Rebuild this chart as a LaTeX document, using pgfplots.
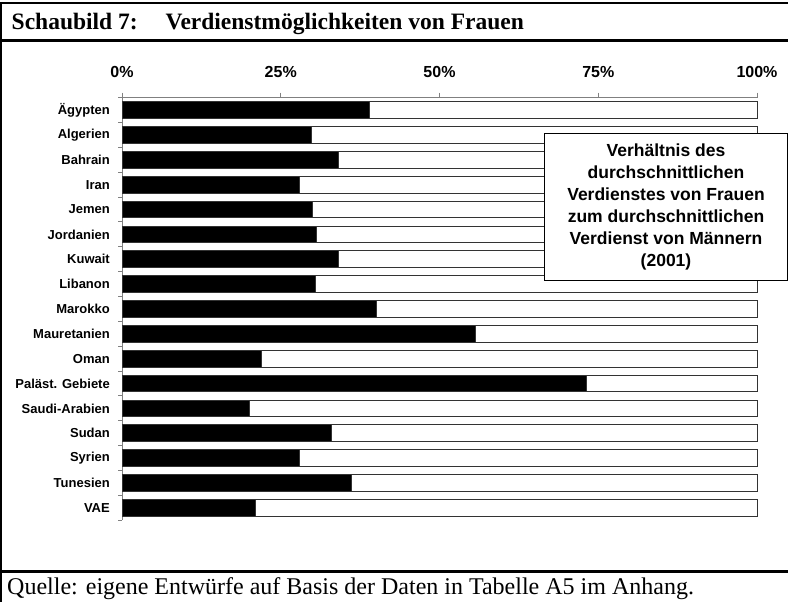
\documentclass[border=0pt]{standalone}
\usepackage{fontspec}
\setmainfont{Liberation Serif}
\newfontfamily\sansf{Liberation Sans}
\usepackage{pgfplots}
\pgfplotsset{compat=1.18}
\begin{document}
\begin{tikzpicture}[x=1bp,y=1bp]
\path[use as bounding box] (0,0) rectangle (788,602);
\begin{axis}[
  at={(122bp,81.8bp)}, anchor=south west,
  scale only axis, width=635bp, height=422.5bp,
  xmin=0, xmax=100, ymin=-0.5, ymax=16.5, y dir=reverse,
  xbar stacked, bar width=16.7bp,
  axis x line*=top, axis y line*=left,
  axis line style={draw=gray, line width=1bp},
  xtick={0,25,50,75,100}, xticklabels={0\%,25\%,50\%,75\%,100\%},
  tick align=outside, major tick length=5bp, minor tick length=4bp,
  tick style={gray, line width=1bp},
  ytick={0,...,16},
  yticklabels={Ägypten,Algerien,Bahrain,Iran,Jemen,Jordanien,Kuwait,Libanon,Marokko,Mauretanien,Oman,Paläst. Gebiete,Saudi-Arabien,Sudan,Syrien,Tunesien,VAE},
  minor ytick={-0.5,0.5,...,16.5},
  major y tick style={draw=none},
  x tick label style={font=\sansf\bfseries\fontsize{16bp}{18bp}\selectfont, anchor=base, inner sep=0pt, yshift=15bp},
  y tick label style={font=\sansf\bfseries\fontsize{13bp}{15bp}\selectfont, anchor=east, inner sep=0pt, xshift=-7bp},
  clip=false,
]
\addplot[fill=black, draw=gray!40!black, line width=0.8bp] coordinates {
(39.0,0) (29.9,1) (34.1,2) (27.9,3) (30.0,4) (30.6,5) (34.1,6) (30.4,7) (40.1,8)
(55.7,9) (21.9,10) (73.1,11) (20.0,12) (33.0,13) (27.9,14) (36.2,15) (21.0,16)};
\addplot[fill=white, draw=gray!40!black, line width=0.8bp] coordinates {
(61.0,0) (70.1,1) (65.9,2) (72.1,3) (70.0,4) (69.4,5) (65.9,6) (69.6,7) (59.9,8)
(44.3,9) (78.1,10) (26.9,11) (80.0,12) (67.0,13) (72.1,14) (63.8,15) (79.0,16)};
\end{axis}
% frame
\draw[line width=2.5bp] (0,599.2) -- (788,599.2);
\draw[line width=2.7bp] (0,561.3) -- (788,561.3);
\draw[line width=2.5bp] (0,30.3) -- (788,30.3);
\draw[line width=2.4bp] (1.2,0) -- (1.2,600.4);
% title
\node[anchor=base west, inner sep=0pt, font=\bfseries\fontsize{23.5bp}{26bp}\selectfont] at (11.5,572) {Schaubild 7:};
\node[anchor=base west, inner sep=0pt, font=\bfseries\fontsize{23.5bp}{26bp}\selectfont] at (165.5,572) {Verdienstmöglichkeiten von Frauen};
% source
\node[anchor=base west, inner sep=0pt, font=\fontsize{24bp}{28bp}\selectfont] at (7,7) {Quelle: eigene Entwürfe auf Basis der Daten in Tabelle A5 im Anhang.};
% text box
\draw[fill=white, line width=1bp] (544.3,321) rectangle (787.3,468.7);
\node[align=center, inner sep=0pt, font=\sansf\bfseries\fontsize{17.5bp}{22bp}\selectfont] at (666,395) {Verhältnis des\\durchschnittlichen\\Verdienstes von Frauen\\zum durchschnittlichen\\Verdienst von Männern\\(2001)};
\end{tikzpicture}
\end{document}
